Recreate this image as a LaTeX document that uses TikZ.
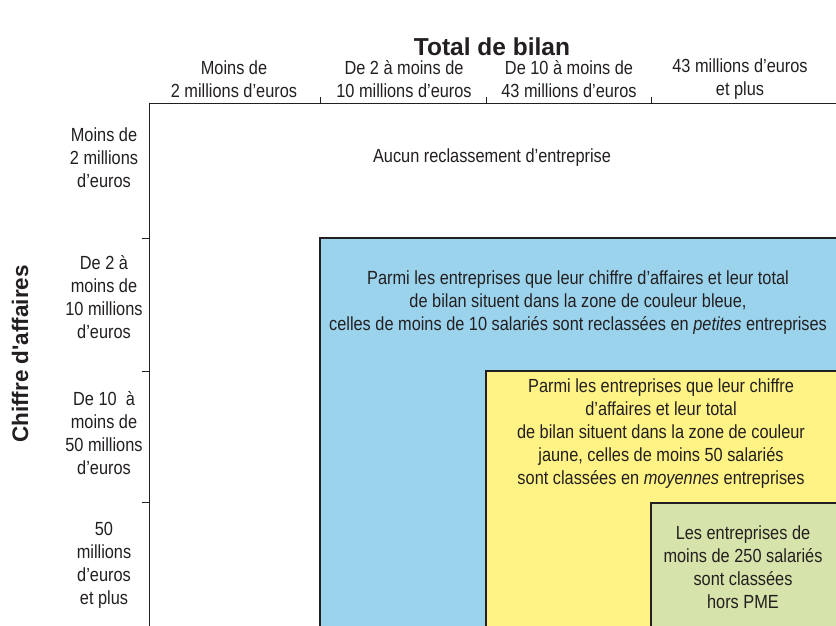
\documentclass[tikz,border=0pt]{standalone}
\usepackage{fontspec}
\setmainfont{Liberation Sans}[FakeStretch=0.86]
\newfontfamily\titlefont{Liberation Sans}
\definecolor{zblue}{RGB}{155,211,237}
\definecolor{zyellow}{RGB}{255,243,133}
\definecolor{zgreen}{RGB}{214,227,170}
\definecolor{ink}{RGB}{35,31,32}
\tikzset{
  lbl/.style={align=center, inner sep=0pt, text=ink, font=\fontsize{19}{23}\selectfont},
  ttl/.style={inner sep=0pt, text=ink, font=\titlefont\bfseries\fontsize{22.5}{26}\selectfont},
  zone/.style={draw=ink, line width=1.2pt},
  axis/.style={draw=ink, line width=1pt},
}
\begin{document}
\begin{tikzpicture}[x=1pt,y=-1pt]
\useasboundingbox (0,0) rectangle (836,626);
\begin{scope}
\clip (0,0) rectangle (836,626);
\fill[white] (0,0) rectangle (836,626);
% zones
\filldraw[zone, fill=zblue] (320,238) rectangle (860,650);
\filldraw[zone, fill=zyellow] (486,371) rectangle (860,650);
\filldraw[zone, fill=zgreen] (651,503) rectangle (860,650);
% axes
\coordinate (o) at (149,104);
\coordinate (xe) at (840,104);
\coordinate (ye) at (149,630);
\draw[axis] (xe) -- (o) -- (ye);
\foreach \x in {320,486,651} \draw[axis] (\x,97) -- (\x,104);
\foreach \y in {238,371,502} \draw[axis] (142,\y) -- (149,\y);
\end{scope}
% titles
\node[ttl, font=\titlefont\bfseries\fontsize{24.5}{28}\selectfont] (tb) at (492,47) {Total de bilan};
\node[ttl, rotate=90] (ca) at (20,354) {Chiffre d\textquotesingle affaires};
% column headers
\node[lbl] (c1) at (234,79) {Moins de\\2 millions d’euros};
\node[lbl] (c2) at (404,79) {De 2 à moins de\\10 millions d’euros};
\node[lbl] (c3) at (569,79) {De 10 à moins de\\43 millions d’euros};
\node[lbl] (c4) at (740,79) {43 millions d’euros\\et plus};
% row headers
\node[lbl] (r1) at (104,158) {Moins de\\2 millions\\d’euros};
\node[lbl] (r2) at (104,297) {De 2 à\\moins de\\10 millions\\d’euros};
\node[lbl] (r3) at (104,433) {De 10~ à\\moins de\\50 millions\\d’euros};
\node[lbl] (r4) at (104,565) {50\\millions\\d’euros\\et plus};
% zone texts
\node[lbl] (t0) at (492,158) {Aucun reclassement d’entreprise};
\node[lbl] (t1) at (578,303) {Parmi les entreprises que leur chiffre d’affaires et leur total\\de bilan situent dans la zone de couleur bleue,\\celles de moins de 10 salariés sont reclassées en \textit{petites} entreprises};
\node[lbl] (t2) at (661,434) {Parmi les entreprises que leur chiffre\\d’affaires et leur total\\de bilan situent dans la zone de couleur\\jaune, celles de moins 50 salariés\\sont classées en \textit{moyennes} entreprises};
\node[lbl] (t3) at (743,567) {Les entreprises de\\moins de 250 salariés\\sont classées\\hors PME};
\end{tikzpicture}
\end{document}
